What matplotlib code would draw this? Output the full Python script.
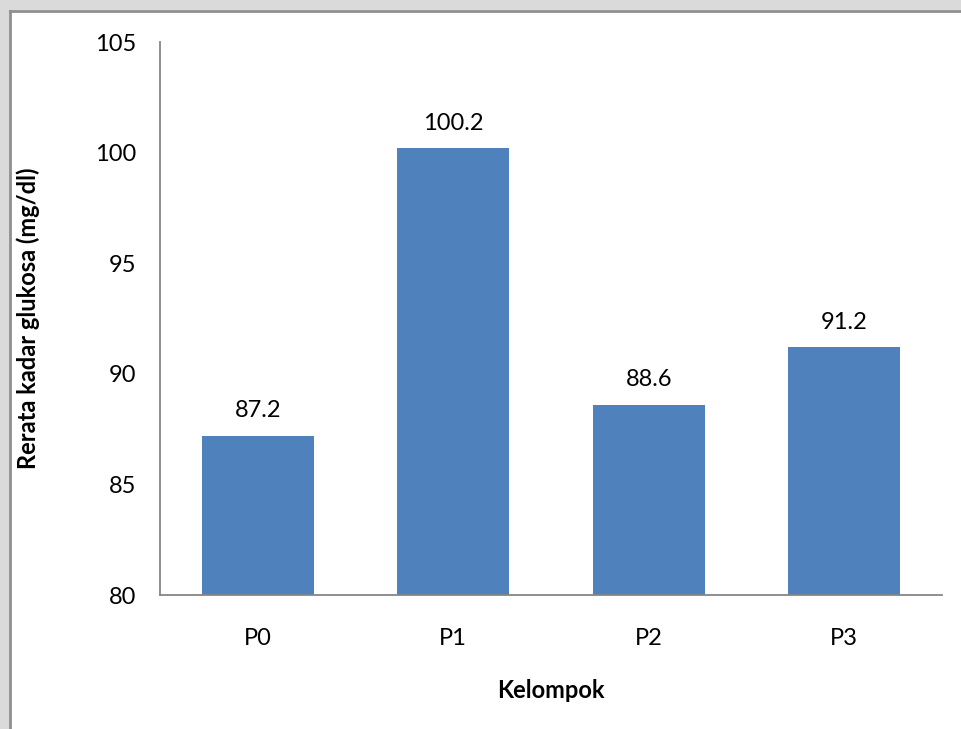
import matplotlib.pyplot as plt
from matplotlib.patches import Rectangle
from matplotlib.lines import Line2D

# ---- Data ----
groups = ["P0", "P1", "P2", "P3"]
glucose = [87.2, 100.2, 88.6, 91.2]
y_ticks = [80, 85, 90, 95, 100, 105]

BAR_COLOR = "#4F81BD"
AXIS_COLOR = "#868686"
FS = 17
plt.rcParams["font.family"] = ["Lato", "DejaVu Sans"]

fig = plt.figure(figsize=(9.62, 7.29), dpi=100)
fig.patch.set_facecolor("#dadada")

# white chart area with a grey frame along the top and left
W, H = 962, 729
fx, fy = 9.5 / W, 1 - 10.5 / H
fig.add_artist(Rectangle((fx, -0.1), 1.2, fy + 0.1, transform=fig.transFigure,
                         facecolor="white", edgecolor="none", zorder=-5))
fig.add_artist(Line2D([fx, fx], [-0.1, fy], transform=fig.transFigure,
                      color="#8f8f8f", linewidth=2.0, zorder=-4))
fig.add_artist(Line2D([fx, 1.1], [fy, fy], transform=fig.transFigure,
                      color="#8f8f8f", linewidth=2.0, zorder=-4))

ax = fig.add_axes([160 / W, (H - 595) / H, (942 - 160) / W, (595 - 42) / H])
ax.set_facecolor("none")
ax.set_zorder(2)

x = range(len(groups))
bars = ax.bar(x, glucose, width=1 / 1.75, color=BAR_COLOR, zorder=2)
for xi, v in zip(x, glucose):
    ax.text(xi, v + 0.65, f"{v:.1f}", ha="center", va="bottom", fontsize=FS)

ax.set_xlim(-0.5, len(groups) - 0.5)
ax.set_ylim(80, 105)
ax.set_yticks(y_ticks)
ax.set_xticks(list(x))
ax.set_xticklabels(groups)
ax.tick_params(axis="both", length=0, labelsize=FS)
ax.tick_params(axis="y", pad=17)
ax.tick_params(axis="x", pad=24)

for side in ["top", "right"]:
    ax.spines[side].set_visible(False)
for side in ["left", "bottom"]:
    ax.spines[side].set_color(AXIS_COLOR)
    ax.spines[side].set_linewidth(1.3)

fig.text(28 / W, 1 - 318 / H, "Rerata kadar glukosa (mg/dl)", rotation=90,
         ha="center", va="center", fontsize=FS, fontweight="bold")
fig.text(551 / W, 1 - 690 / H, "Kelompok", ha="center", va="center",
         fontsize=FS, fontweight="bold")

fig.savefig("out.png", dpi=100, facecolor=fig.get_facecolor())
